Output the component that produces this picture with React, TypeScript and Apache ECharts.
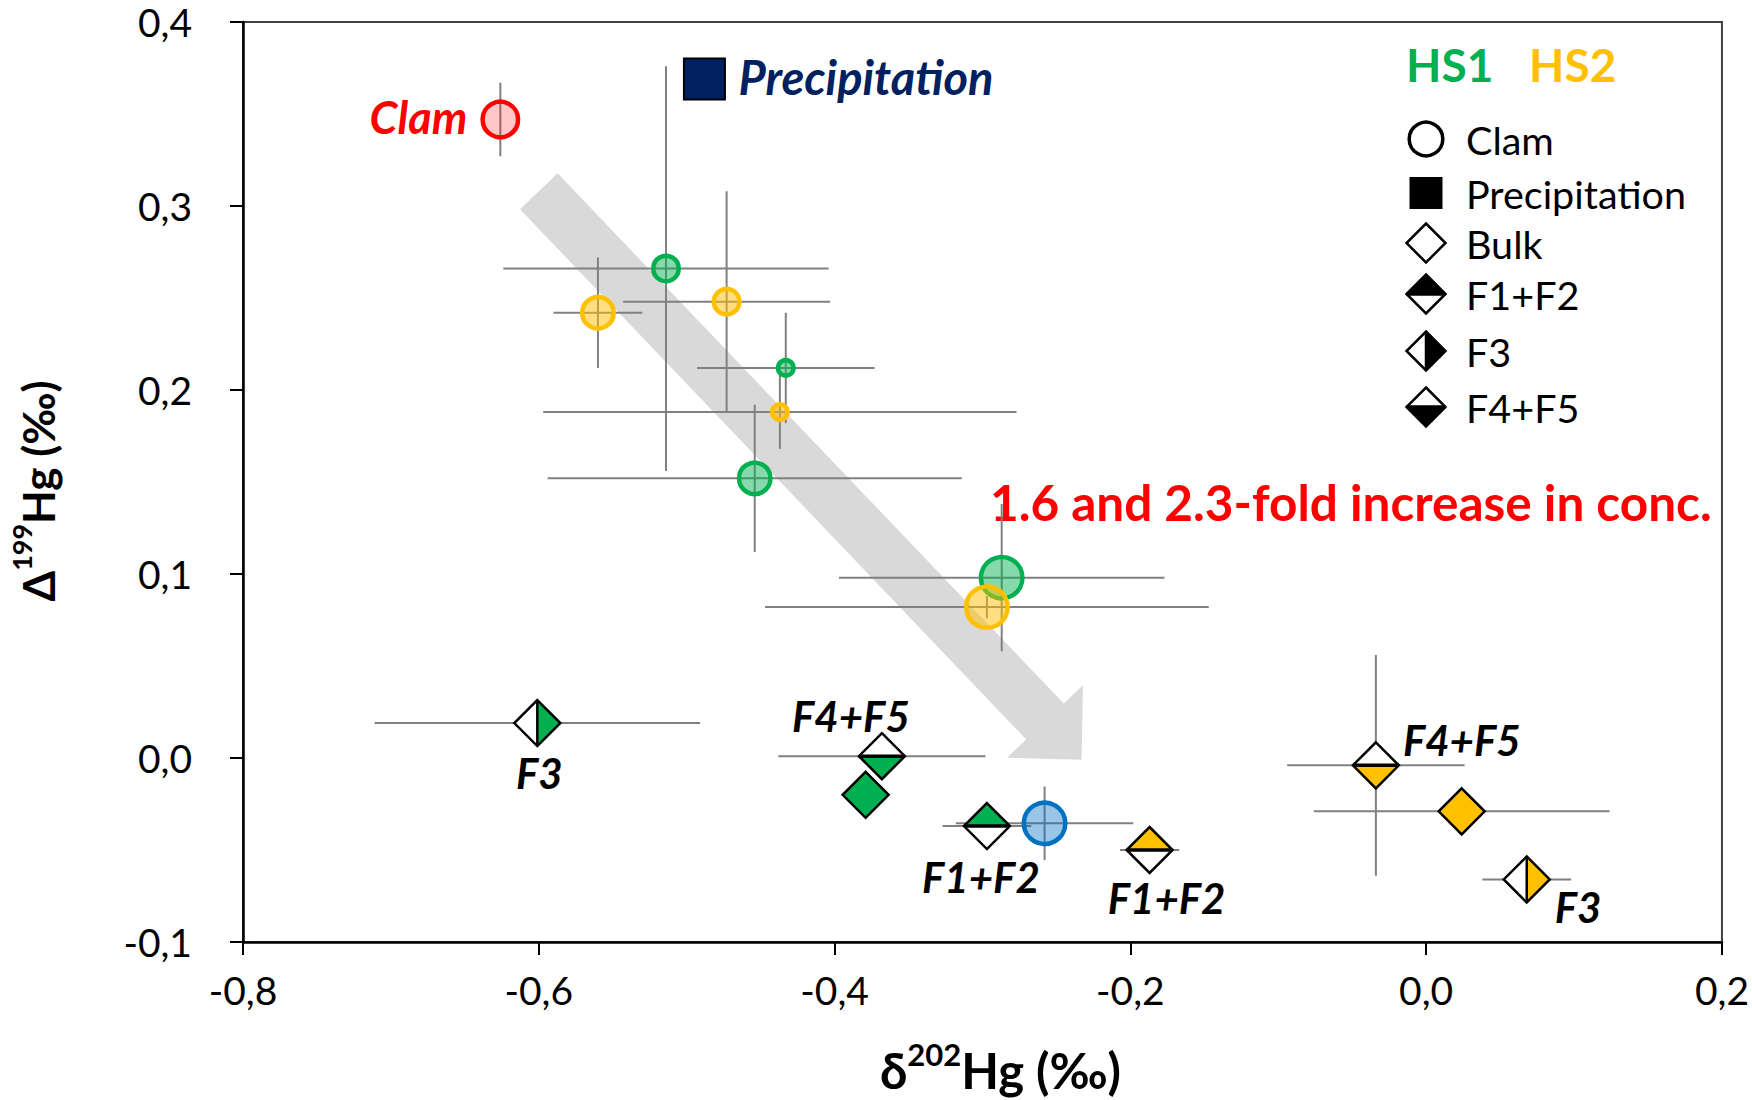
import React, { useEffect, useRef } from "react";
import * as echarts from "echarts";

const FONT = "Lato, 'Open Sans', 'DejaVu Sans', sans-serif";

// ---------------- axes ----------------
const X_MIN = -0.8;
const X_MAX = 0.2;
const X_STEP = 0.2;
const Y_MIN = -0.1;
const Y_MAX = 0.4;
const Y_STEP = 0.1;

// ---------------- clam samples (circles): δ202Hg, Δ199Hg, 2SD ----------------
const hs1ClamX = [-0.514, -0.433, -0.454, -0.287];
const hs1ClamY = [0.266, 0.212, 0.152, 0.098];
const hs1ClamXErr = [0.11, 0.06, 0.14, 0.11];
const hs1ClamYErr = [0.11, 0.03, 0.04, 0.04];

const hs2ClamX = [-0.56, -0.473, -0.437, -0.297];
const hs2ClamY = [0.242, 0.248, 0.188, 0.082];
const hs2ClamXErr = [0.03, 0.07, 0.16, 0.15];
const hs2ClamYErr = [0.03, 0.06, 0.02, 0.006];

const refClamX = [-0.626];
const refClamY = [0.347];
const refClamXErr = [0];
const refClamYErr = [0.02];

const blueClamX = [-0.258];
const blueClamY = [-0.0355];
const blueClamXErr = [0.06];
const blueClamYErr = [0.02];

// ---------------- precipitation ----------------
const precipX = [-0.488];
const precipY = [0.369];

// ---------------- soil fractions (diamonds) ----------------
const hs1FracName = ["F3", "F4+F5", "Bulk", "F1+F2"];
const hs1FracX = [-0.601, -0.368, -0.379, -0.297];
const hs1FracY = [0.019, 0.001, -0.02, -0.037];
const hs1FracXErr = [0.11, 0.07, 0, 0.03];
const hs1FracYErr = [0, 0, 0, 0];

const hs2FracName = ["F1+F2", "F4+F5", "Bulk", "F3"];
const hs2FracX = [-0.187, -0.034, 0.024, 0.068];
const hs2FracY = [-0.05, -0.004, -0.029, -0.066];
const hs2FracXErr = [0.02, 0.06, 0.1, 0.03];
const hs2FracYErr = [0, 0.06, 0, 0];

// trend arrow (data coords: start x, start y, tip x, tip y)
const trendArrow = [-0.6, 0.308, -0.233, -0.001];

// ---------------- styles (kept apart from the data) ----------------
const GREEN = "#00B050";
const YELLOW = "#FFC000";
const RED = "#FF0000";
const BLUE = "#0070C0";
const NAVY = "#002060";
const hs1ClamSize = [30, 20, 36, 46];
const hs2ClamSize = [36, 30, 20, 46];
const refClamSize = [40];
const blueClamSize = [46];
// label offsets [dx, dy, align] relative to the marker centre
const hs1LabelPos: any[] = [[2, 50, "center"], [-31, -40, "center"], null, [-6, 51, "center"]];
const hs2LabelPos: any[] = [[17, 48, "center"], [27, -25, "left"], null, [28, 28, "left"]];

const fmt = (v: number) => (Math.abs(v) < 1e-9 ? 0 : v).toFixed(1).replace(".", ",");

function diamondChildren(cx: number, cy: number, h: number, kind: string, color: string, sw: number) {
  const T = [cx, cy - h];
  const R = [cx + h, cy];
  const B = [cx, cy + h];
  const L = [cx - h, cy];
  const ch: any[] = [];
  ch.push({ type: "polygon", shape: { points: [T, R, B, L] }, style: { fill: kind === "Bulk" ? color : "#fff" } });
  if (kind === "F1+F2") ch.push({ type: "polygon", shape: { points: [T, R, L] }, style: { fill: color } });
  if (kind === "F4+F5") ch.push({ type: "polygon", shape: { points: [L, R, B] }, style: { fill: color } });
  if (kind === "F3") ch.push({ type: "polygon", shape: { points: [T, R, B] }, style: { fill: color } });
  if (kind === "F1+F2" || kind === "F4+F5")
    ch.push({ type: "line", shape: { x1: L[0], y1: cy, x2: R[0], y2: cy }, style: { stroke: "#000", lineWidth: sw + 1 } });
  if (kind === "F3")
    ch.push({ type: "line", shape: { x1: cx, y1: T[1], x2: cx, y2: B[1] }, style: { stroke: "#000", lineWidth: sw } });
  ch.push({
    type: "polygon",
    shape: { points: [T, R, B, L] },
    style: { fill: "none", stroke: "#000", lineWidth: sw, lineJoin: "miter" },
  });
  return ch;
}

function errorSeries(name: string, xs: number[], ys: number[], xe: number[], ye: number[]) {
  return {
    type: "custom",
    name,
    coordinateSystem: "cartesian2d",
    silent: true,
    data: xs.map((x, i) => [x, ys[i], xe[i], ye[i]]),
    encode: { x: 0, y: 1 },
    renderItem: (params: any, api: any) => {
      const x = api.value(0);
      const y = api.value(1);
      const ex = api.value(2);
      const ey = api.value(3);
      const ch: any[] = [];
      const st = { stroke: "#808080", lineWidth: 2 };
      if (ex > 0) {
        const a = api.coord([x - ex, y]);
        const b = api.coord([x + ex, y]);
        ch.push({ type: "line", shape: { x1: a[0], y1: a[1], x2: b[0], y2: b[1] }, style: st });
      }
      if (ey > 0) {
        const a = api.coord([x, y - ey]);
        const b = api.coord([x, y + ey]);
        ch.push({ type: "line", shape: { x1: a[0], y1: a[1], x2: b[0], y2: b[1] }, style: st });
      }
      return { type: "group", children: ch };
    },
  };
}

function circleSeries(name: string, xs: number[], ys: number[], sizes: number[], stroke: string, fill: string, label?: any) {
  return {
    type: "custom",
    name,
    coordinateSystem: "cartesian2d",
    data: xs.map((x, i) => [x, ys[i], i]),
    encode: { x: 0, y: 1 },
    renderItem: (params: any, api: any) => {
      const p = api.coord([api.value(0), api.value(1)]);
      const i = api.value(2);
      const sw = 4.5;
      const ch: any[] = [
        { type: "circle", shape: { cx: p[0], cy: p[1], r: sizes[i] / 2 - sw / 2 }, style: { fill, stroke, lineWidth: sw } },
      ];
      if (label) {
        ch.push({
          type: "text",
          x: p[0] + label.dx,
          y: p[1] + label.dy,
          style: {
            text: label.text,
            fill: label.color,
            fontSize: 45,
            fontWeight: "bold",
            fontStyle: "italic",
            fontFamily: FONT,
            align: label.align,
            verticalAlign: "middle",
          },
        });
      }
      return { type: "group", children: ch };
    },
  };
}

function fracSeries(name: string, names: string[], xs: number[], ys: number[], color: string, labelPos: any[]) {
  return {
    type: "custom",
    name,
    coordinateSystem: "cartesian2d",
    data: xs.map((x, i) => [x, ys[i], i]),
    encode: { x: 0, y: 1 },
    renderItem: (params: any, api: any) => {
      const p = api.coord([api.value(0), api.value(1)]);
      const i = api.value(2);
      const ch = diamondChildren(p[0], p[1], 23, names[i], color, 2.5);
      const lp = labelPos[i];
      if (lp) {
        ch.push({
          type: "text",
          x: p[0] + lp[0],
          y: p[1] + lp[1],
          style: {
            text: names[i],
            fill: "#000",
            fontSize: 42,
            fontWeight: "bold",
            fontStyle: "italic",
            fontFamily: FONT,
            align: lp[2],
            verticalAlign: "middle",
          },
        });
      }
      return { type: "group", children: ch };
    },
  };
}

function legendGraphics() {
  const symX = 1426;
  const txtX = 1466;
  const rows = [139, 193, 243, 294, 351, 407];
  const names = ["Clam", "Precipitation", "Bulk", "F1+F2", "F3", "F4+F5"];
  const els: any[] = [];
  els.push({
    type: "text",
    x: 1406,
    y: 64,
    style: { text: "HS1", fill: GREEN, fontSize: 46, fontWeight: "bold", fontFamily: FONT, verticalAlign: "middle" },
  });
  els.push({
    type: "text",
    x: 1529,
    y: 64,
    style: { text: "HS2", fill: YELLOW, fontSize: 46, fontWeight: "bold", fontFamily: FONT, verticalAlign: "middle" },
  });
  els.push({ type: "circle", shape: { cx: symX, cy: rows[0], r: 16.8 }, style: { fill: "none", stroke: "#000", lineWidth: 3.5 } });
  els.push({ type: "rect", shape: { x: symX - 16.5, y: rows[1] - 16, width: 33, height: 32 }, style: { fill: "#000" } });
  ["Bulk", "F1+F2", "F3", "F4+F5"].forEach((k, j) => {
    const kind = k === "Bulk" ? "none" : k;
    els.push({ type: "group", children: diamondChildren(symX, rows[2 + j], 19.5, kind, "#000", 2.5) });
  });
  names.forEach((n, j) => {
    els.push({
      type: "text",
      x: txtX,
      y: rows[j],
      style: { text: n, fill: "#000", fontSize: 39.5, fontFamily: FONT, verticalAlign: "middle" },
    });
  });
  els.push({
    type: "text",
    x: 990,
    y: 502,
    style: {
      text: "1.6 and 2.3-fold increase in conc.",
      fill: RED,
      fontSize: 49.5,
      fontWeight: "bold",
      fontFamily: FONT,
      verticalAlign: "middle",
    },
  });
  return els;
}

export default function App() {
  const ref = useRef<HTMLDivElement>(null);
  useEffect(() => {
    document.body.style.margin = "0";
    const chart = echarts.init(ref.current!, undefined, { renderer: "svg" });
    const axisLabel = { color: "#000", fontSize: 39, fontFamily: FONT, formatter: fmt };
    const option: any = {
      animation: false,
      backgroundColor: "#fff",
      grid: { left: 242, right: 24, top: 22, bottom: 158, show: true, borderColor: "#404040", borderWidth: 2 },
      xAxis: {
        type: "value",
        min: X_MIN,
        max: X_MAX,
        interval: X_STEP,
        axisLine: { show: true, onZero: false, lineStyle: { color: "#000", width: 2.5 } },
        axisTick: { show: true, inside: false, length: 13, lineStyle: { color: "#000", width: 2 } },
        axisLabel: { ...axisLabel, margin: 28 },
        splitLine: { show: false },
        name: "{b|δ}{s|202}{b|Hg (‰)}",
        nameLocation: "middle",
        nameGap: 96,
        nameTextStyle: {
          padding: [0, 0, 0, 36],
          rich: {
            b: { fontSize: 49, fontWeight: "bold", fontFamily: FONT, color: "#000", lineHeight: 56, verticalAlign: "bottom" },
            s: { fontSize: 31, fontWeight: "bold", fontFamily: FONT, color: "#000", lineHeight: 32, verticalAlign: "top" },
          },
        },
      },
      yAxis: {
        type: "value",
        min: Y_MIN,
        max: Y_MAX,
        interval: Y_STEP,
        axisLine: { show: true, onZero: false, lineStyle: { color: "#000", width: 2.5 } },
        axisTick: { show: true, inside: false, length: 13, lineStyle: { color: "#000", width: 2 } },
        axisLabel: { ...axisLabel, margin: 51 },
        splitLine: { show: false },
        name: "{b|Δ}{s|199}{b|Hg (‰)}",
        nameLocation: "middle",
        nameRotate: 90,
        nameGap: 183,
        nameTextStyle: {
          padding: [0, 18, 0, 0],
          rich: {
            b: { fontSize: 44, fontWeight: "bold", fontFamily: FONT, color: "#000", lineHeight: 52, verticalAlign: "bottom" },
            s: { fontSize: 27, fontWeight: "bold", fontFamily: FONT, color: "#000", lineHeight: 30, verticalAlign: "top" },
          },
        },
      },
      graphic: legendGraphics(),
      series: [
        {
          type: "custom",
          name: "trend",
          coordinateSystem: "cartesian2d",
          silent: true,
          data: [trendArrow],
          encode: { x: [0, 2], y: [1, 3] },
          renderItem: (params: any, api: any) => {
            const a = api.coord([api.value(0), api.value(1)]);
            const b = api.coord([api.value(2), api.value(3)]);
            const dx = b[0] - a[0];
            const dy = b[1] - a[1];
            const len = Math.hypot(dx, dy);
            const ux = dx / len;
            const uy = dy / len;
            const nx = -uy;
            const ny = ux;
            const sw = 26;
            const hw = 52.5;
            const hl = 53;
            const bx = b[0] - ux * hl;
            const by = b[1] - uy * hl;
            const pts = [
              [a[0] + nx * sw, a[1] + ny * sw],
              [bx + nx * sw, by + ny * sw],
              [bx + nx * hw, by + ny * hw],
              [b[0], b[1]],
              [bx - nx * hw, by - ny * hw],
              [bx - nx * sw, by - ny * sw],
              [a[0] - nx * sw, a[1] - ny * sw],
            ];
            return { type: "polygon", shape: { points: pts }, style: { fill: "#D9D9D9" } };
          },
        },
        errorSeries("HS1 frac err", hs1FracX, hs1FracY, hs1FracXErr, hs1FracYErr),
        errorSeries("HS2 frac err", hs2FracX, hs2FracY, hs2FracXErr, hs2FracYErr),
        errorSeries("HS1 clam err", hs1ClamX, hs1ClamY, hs1ClamXErr, hs1ClamYErr),
        errorSeries("HS2 clam err", hs2ClamX, hs2ClamY, hs2ClamXErr, hs2ClamYErr),
        errorSeries("Clam err", refClamX, refClamY, refClamXErr, refClamYErr),
        errorSeries("Blue clam err", blueClamX, blueClamY, blueClamXErr, blueClamYErr),
        fracSeries("HS1 fractions", hs1FracName, hs1FracX, hs1FracY, GREEN, hs1LabelPos),
        fracSeries("HS2 fractions", hs2FracName, hs2FracX, hs2FracY, YELLOW, hs2LabelPos),
        circleSeries("HS1 clam", hs1ClamX, hs1ClamY, hs1ClamSize, GREEN, "rgba(0,176,80,0.48)"),
        circleSeries("HS2 clam", hs2ClamX, hs2ClamY, hs2ClamSize, YELLOW, "rgba(255,192,0,0.5)"),
        circleSeries("Blue clam", blueClamX, blueClamY, blueClamSize, BLUE, "rgba(0,112,192,0.4)"),
        circleSeries("Clam", refClamX, refClamY, refClamSize, RED, "rgba(255,0,0,0.22)", {
          text: "Clam",
          dx: -33,
          dy: -3,
          align: "right",
          color: RED,
        }),
        {
          type: "custom",
          name: "Precipitation",
          coordinateSystem: "cartesian2d",
          data: precipX.map((x, i) => [x, precipY[i]]),
          encode: { x: 0, y: 1 },
          renderItem: (params: any, api: any) => {
            const p = api.coord([api.value(0), api.value(1)]);
            const s = 41;
            return {
              type: "group",
              children: [
                {
                  type: "rect",
                  shape: { x: p[0] - s / 2, y: p[1] - s / 2, width: s, height: s },
                  style: { fill: NAVY, stroke: "#000", lineWidth: 2 },
                },
                {
                  type: "text",
                  x: p[0] + 34,
                  y: p[1] - 2,
                  style: {
                    text: "Precipitation",
                    fill: NAVY,
                    fontSize: 47,
                    fontWeight: "bold",
                    fontStyle: "italic",
                    fontFamily: FONT,
                    align: "left",
                    verticalAlign: "middle",
                  },
                },
              ],
            };
          },
        },
      ],
    };
    chart.setOption(option);
    return () => chart.dispose();
  }, []);
  return <div ref={ref} style={{ width: 1752, height: 1100 }} />;
}
